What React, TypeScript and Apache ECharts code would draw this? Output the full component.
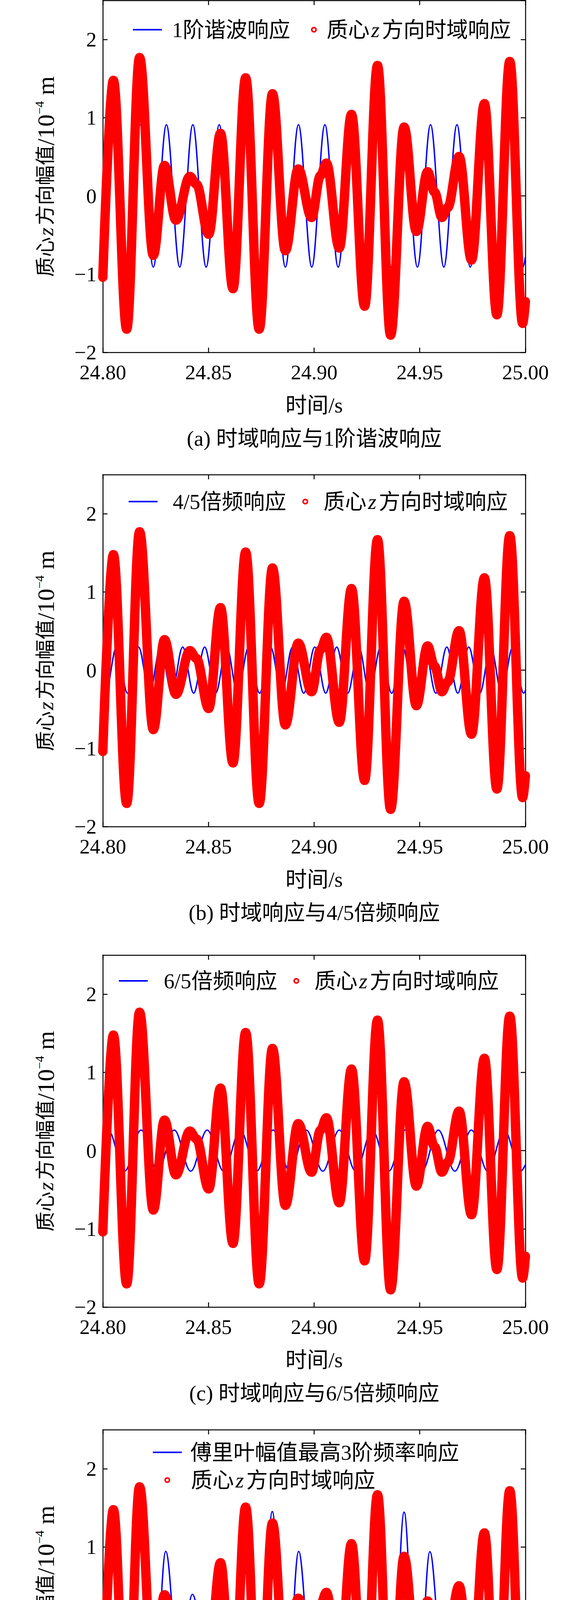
import React, { useEffect, useRef } from 'react';
import * as echarts from 'echarts';

// ---------------- data ----------------
const xTickValues = [24.8, 24.85, 24.9, 24.95, 25.0];
const yTickValues = [-2, -1, 0, 1, 2];

// red: 质心z方向时域响应 (extrema / shoulders, t [s], value [1e-4 m])
const redResponse: number[][] = [
  [24.8000, -1.04], [24.8050, 1.477], [24.8113, -1.704], [24.8174, 1.770],
  [24.8239, -0.76], [24.8292, 0.39], [24.8346, -0.31], [24.8412, 0.25],
  [24.8443, 0.15], [24.8501, -0.49], [24.8557, 0.80], [24.8616, -1.186],
  [24.8676, 1.51], [24.8740, -1.704], [24.8803, 1.306], [24.8864, -0.70],
  [24.8925, 0.345], [24.8988, -0.276], [24.9030, 0.26], [24.9058, 0.42],
  [24.9119, -0.666], [24.9177, 1.043], [24.9239, -1.41], [24.9300, 1.668],
  [24.9362, -1.78], [24.9426, 0.88], [24.9484, -0.454], [24.9537, 0.31],
  [24.9570, 0.05], [24.9605, -0.276], [24.9632, -0.15], [24.9686, 0.505],
  [24.9745, -0.82], [24.9806, 1.18], [24.9865, -1.52], [24.9926, 1.72],
  [24.9987, -1.63], [25.0000, -1.35],
];

// blue (a): 1阶谐波响应
const harmonic1: number[][] = [
  [24.8000, -0.73], [24.8051, 0.91], [24.8114, -0.91], [24.8176, 0.91],
  [24.8239, -0.91], [24.8301, 0.91], [24.8364, -0.91], [24.8426, 0.91],
  [24.8489, -0.91], [24.8551, 0.91], [24.8614, -0.91], [24.8676, 0.91],
  [24.8739, -0.91], [24.8801, 0.91], [24.8864, -0.91], [24.8926, 0.91],
  [24.8989, -0.91], [24.9051, 0.91], [24.9114, -0.91], [24.9176, 0.91],
  [24.9239, -0.91], [24.9301, 0.91], [24.9364, -0.91], [24.9426, 0.91],
  [24.9489, -0.91], [24.9551, 0.91], [24.9614, -0.91], [24.9676, 0.91],
  [24.9739, -0.91], [24.9801, 0.91], [24.9864, -0.91], [24.9926, 0.91],
  [24.9989, -0.91], [25.0000, -0.78],
];

// blue (b): 4/5倍频响应
const freq45: number[][] = [
  [24.8000, -0.21], [24.8013, -0.295], [24.8065, 0.295], [24.8117, -0.295],
  [24.8169, 0.295], [24.8221, -0.295], [24.8273, 0.295], [24.8326, -0.295],
  [24.8378, 0.295], [24.8430, -0.295], [24.8482, 0.295], [24.8534, -0.295],
  [24.8586, 0.295], [24.8638, -0.295], [24.8690, 0.295], [24.8742, -0.295],
  [24.8794, 0.295], [24.8846, -0.295], [24.8898, 0.295], [24.8951, -0.295],
  [24.9003, 0.295], [24.9055, -0.295], [24.9107, 0.295], [24.9159, -0.295],
  [24.9211, 0.295], [24.9263, -0.295], [24.9315, 0.295], [24.9367, -0.295],
  [24.9419, 0.295], [24.9471, -0.295], [24.9523, 0.295], [24.9576, -0.295],
  [24.9628, 0.295], [24.9680, -0.295], [24.9732, 0.295], [24.9784, -0.295],
  [24.9836, 0.295], [24.9888, -0.295], [24.9940, 0.295], [24.9992, -0.295],
  [25.0000, -0.26],
];

// blue (c): 6/5倍频响应
const freq65: number[][] = [
  [24.8000, 0.14], [24.8025, 0.263], [24.8103, -0.263], [24.8181, 0.263],
  [24.8260, -0.263], [24.8338, 0.263], [24.8416, -0.263], [24.8494, 0.263],
  [24.8572, -0.263], [24.8650, 0.263], [24.8728, -0.263], [24.8806, 0.263],
  [24.8885, -0.263], [24.8963, 0.263], [24.9041, -0.263], [24.9119, 0.263],
  [24.9197, -0.263], [24.9275, 0.263], [24.9353, -0.263], [24.9431, 0.263],
  [24.9510, -0.263], [24.9588, 0.263], [24.9666, -0.263], [24.9744, 0.263],
  [24.9822, -0.263], [24.9900, 0.263], [24.9978, -0.263], [25.0000, -0.18],
];

// blue (d): 傅里叶幅值最高3阶频率响应
const top3: number[][] = [
  [24.8000, -0.72], [24.8051, 1.22], [24.8113, -1.43], [24.8176, 1.44],
  [24.8237, -1.263], [24.8298, 0.944], [24.8360, -0.612], [24.8424, 0.395],
  [24.8489, -0.38], [24.8551, 0.59], [24.8615, -0.90], [24.8677, 1.22],
  [24.8739, -1.43], [24.8802, 1.454], [24.8865, -1.263], [24.8927, 0.944],
  [24.8988, -0.612], [24.9050, 0.395], [24.9114, -0.38], [24.9177, 0.59],
  [24.9240, -0.90], [24.9302, 1.22], [24.9364, -1.43], [24.9426, 1.446],
  [24.9487, -1.26], [24.9548, 0.94], [24.9610, -0.612], [24.9674, 0.395],
  [24.9740, -0.383], [24.9805, 0.587], [24.9866, -0.89], [24.9927, 1.22],
  [24.9989, -1.43], [25.0000, -1.25],
];

const blueSets = [harmonic1, freq45, freq65, top3];
const blueNames = ['1阶谐波响应', '4/5倍频响应', '6/5倍频响应', '傅里叶幅值最高3阶频率响应'];
const redName = '质心z方向时域响应';
const captions = [
  '(a) 时域响应与1阶谐波响应',
  '(b) 时域响应与4/5倍频响应',
  '(c) 时域响应与6/5倍频响应',
  '(d) 时域响应与傅里叶幅值最高3阶频率响应',
];
const xName = '时间/s';
const yName = '质心{i|z}方向幅值{l|/10}{sup|\u22124}{l| m}';

// ---------------- layout & styles ----------------
const FONT = "'Liberation Serif', 'Times New Roman', 'Noto Sans CJK SC', serif";
const GRID_LEFT = 263;
const GRID_W = 1081;
const GRID_H = 901;
const gridTops = [1, 1215, 2445, 3660];
const legendLayout = [
  { bx: 340, by: 76, bpad: 21, rx: 795.5, ry: 76, rpad: 22 },
  { bx: 329, by: 1284, bpad: 34, rx: 773.5, ry: 1284, rpad: 36 },
  { bx: 304, by: 2511, bpad: 36, rx: 750.5, ry: 2511, rpad: 36 },
  { bx: 391, by: 3718, bpad: 17, rx: 420.5, ry: 3789, rpad: 50 },
];

function buildOption() {
  const axisLine = { show: true, onZero: false, lineStyle: { color: '#000', width: 2.5 } };
  const axisTick = { show: true, inside: true, length: 12, lineStyle: { color: '#000', width: 2.5 } };
  const grid: any[] = [];
  const xAxis: any[] = [];
  const yAxis: any[] = [];
  const series: any[] = [];
  const legend: any[] = [];
  const graphic: any[] = [];

  gridTops.forEach((top, k) => {
    grid.push({ left: GRID_LEFT, top, width: GRID_W, height: GRID_H, containLabel: false });
    const xBase = {
      type: 'value', gridIndex: k, min: xTickValues[0], max: xTickValues[xTickValues.length - 1],
      interval: 0.05, axisLine, axisTick, splitLine: { show: false },
    };
    xAxis.push({
      ...xBase, position: 'bottom',
      axisLabel: {
        show: true, margin: 24, color: '#000', fontSize: 53, fontFamily: FONT,
        formatter: (v: number) => v.toFixed(2),
      },
    });
    xAxis.push({ ...xBase, position: 'top', axisLabel: { show: false } });
    const yBase = {
      type: 'value', gridIndex: k, min: yTickValues[0], max: 2.5, interval: 1,
      axisLine, axisTick, splitLine: { show: false },
    };
    yAxis.push({
      ...yBase, position: 'left',
      axisLabel: {
        show: true, margin: 16, color: '#000', fontSize: 53, fontFamily: FONT, showMaxLabel: false,
        formatter: (v: number) => (v > 2.01 ? '' : v < 0 ? '\u2212' + Math.abs(v) : String(v)),
      },
    });
    yAxis.push({ ...yBase, position: 'right', axisLabel: { show: false } });

    series.push({
      type: 'line', name: blueNames[k], xAxisIndex: 2 * k, yAxisIndex: 2 * k,
      data: blueSets[k], symbol: 'none', showSymbol: false, smooth: 0.36, smoothMonotone: 'x',
      lineStyle: { color: '#0000ff', width: 3.5 }, itemStyle: { color: '#0000ff' },
      clip: true, z: 2, silent: true,
    });
    series.push({
      type: 'line', name: redName, xAxisIndex: 2 * k, yAxisIndex: 2 * k,
      data: redResponse, symbol: 'none', showSymbol: false, smooth: 0.36, smoothMonotone: 'x',
      lineStyle: { color: '#ff0000', width: 24, cap: 'round', join: 'round' },
      itemStyle: { color: '#ff0000' }, clip: false, z: 3, silent: true,
    });

    const L = legendLayout[k];
    const legendText = (pad: number) => ({
      fontSize: 55, fontFamily: FONT, color: '#000', lineHeight: 60, padding: [0, 0, 0, pad],
      rich: {
        i: { fontStyle: 'italic', fontSize: 55, fontFamily: FONT, lineHeight: 60, padding: [0, 6, 0, 4] },
      },
    });
    legend.push({
      show: true, left: L.bx, top: L.by - 30, padding: 0, orient: 'horizontal', selectedMode: false,
      itemWidth: 74, itemHeight: 4,
      data: [{ name: blueNames[k], icon: 'rect', itemStyle: { color: '#0000ff' } }],
      textStyle: legendText(L.bpad),
    });
    legend.push({
      show: true, left: L.rx, top: L.ry - 30, padding: 0, orient: 'horizontal', selectedMode: false,
      itemWidth: 11, itemHeight: 11,
      data: [{
        name: redName, icon: 'circle',
        itemStyle: { color: '#ffffff', borderColor: '#ff0000', borderWidth: 4 },
      }],
      formatter: () => '质心{i|z}方向时域响应',
      textStyle: legendText(L.rpad),
    });

    const baseText = {
      fill: '#000', fontSize: 55, fontFamily: FONT,
      align: 'center', verticalAlign: 'middle', textAlign: 'center', textVerticalAlign: 'middle',
    };
    graphic.push({
      type: 'text', x: 117, y: top + 451, rotation: Math.PI / 2, silent: true,
      style: {
        ...baseText, text: yName, fontSize: 51, lineHeight: 64,
        rich: {
          i: { fontStyle: 'italic', fontSize: 55, fontFamily: FONT, lineHeight: 64, padding: [0, 6, 0, 3] },
          l: { fontSize: 62, fontFamily: FONT, lineHeight: 64 },
          sup: { fontSize: 32, fontFamily: FONT, lineHeight: 32, verticalAlign: 'top' },
        },
      },
    });
    graphic.push({
      type: 'text', x: 803.5, y: top + 1036, silent: true,
      style: { ...baseText, text: xName },
    });
    graphic.push({
      type: 'text', x: 804, y: top + 1121, silent: true,
      style: { ...baseText, text: captions[k] },
    });
  });

  return {
    animation: false,
    backgroundColor: '#ffffff',
    grid, xAxis, yAxis, series, legend, graphic,
  };
}

export default function App() {
  const ref = useRef<HTMLDivElement>(null);
  useEffect(() => {
    document.body.style.margin = '0';
    const chart = echarts.init(ref.current as HTMLDivElement, null, { renderer: 'svg' });
    chart.setOption(buildOption() as any);
    return () => chart.dispose();
  }, []);
  return <div ref={ref} style={{ width: 1476, height: 4819 }} />;
}
